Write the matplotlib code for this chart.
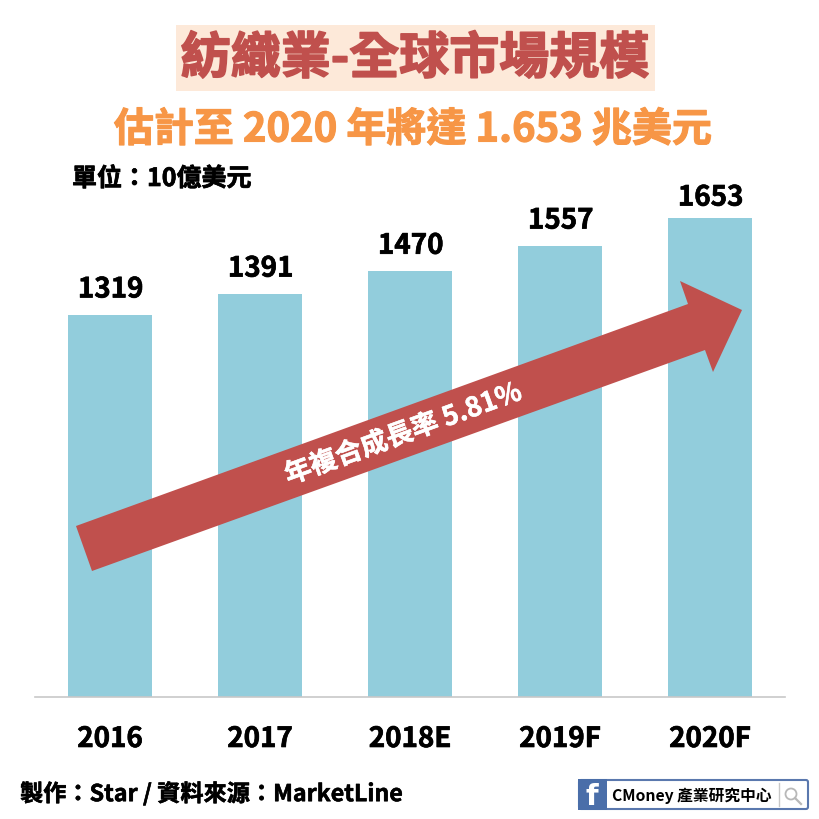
import matplotlib
matplotlib.use('Agg')
import matplotlib.pyplot as plt
import matplotlib.patheffects as pe
from matplotlib.patches import Polygon, Rectangle, FancyBboxPatch, Circle

plt.rcParams['font.family'] = ['Noto Sans CJK TC', 'DejaVu Sans']

# --- Data ---
categories = ['2016', '2017', '2018E', '2019F', '2020F']
values = [1319, 1391, 1470, 1557, 1653]

BAR_COLOR = '#92CDDC'
RED = '#C0504D'
ORANGE = '#F79646'


def heavy(color, w=0.7):
    # the reference type is heavier than the Bold cut, thicken it a bit
    return [pe.withStroke(linewidth=w, foreground=color)]


fig = plt.figure(figsize=(8.2, 8.2), dpi=100, facecolor='white')

# --- Bars ---
ax = fig.add_axes([35 / 820, 122.5 / 820, 750 / 820, 527 / 820])
x = range(len(categories))
bars = ax.bar(x, values, width=0.56, color=BAR_COLOR)
ax.set_xlim(-0.5, 4.5)
ax.set_ylim(0, 1820)
ax.set_yticks([])
ax.set_xticks(list(x))
ax.set_xticklabels(categories, fontsize=20, fontweight='bold',
                   path_effects=heavy('black', 0.5))
ax.tick_params(axis='x', length=0, pad=20.5)
for s in ['top', 'left', 'right']:
    ax.spines[s].set_visible(False)
ax.spines['bottom'].set_color('#C8C8C8')
ax.spines['bottom'].set_linewidth(1.2)

# Add counts above the bars (last label sits closer to its bar in the reference)
for i, bar in enumerate(bars):
    height = bar.get_height()
    gap = 4.5 if i == len(bars) - 1 else 8
    ax.annotate(f'{height:.0f}', (bar.get_x() + bar.get_width() / 2, height),
                xytext=(0.5, gap), textcoords='offset points',
                ha='center', va='bottom', fontsize=20, fontweight='bold',
                path_effects=heavy('black', 0.5))

# --- Overlay in pixel coordinates (titles, arrow, footer) ---
ov = fig.add_axes([0, 0, 1, 1], facecolor='none')
ov.set_xlim(0, 820)
ov.set_ylim(820, 0)
ov.axis('off')

ov.add_patch(Rectangle((176, 26), 479, 66, color='#FDE9D9', lw=0))
ov.text(415, 60, '紡織業-全球市場規模', fontsize=36, fontweight='black',
        color=RED, ha='center', va='center', path_effects=heavy(RED, 1.2))
ov.text(413, 131, '估計至 2020 年將達 1.653 兆美元', fontsize=28.8, fontweight='bold',
        color=ORANGE, ha='center', va='center', path_effects=heavy(ORANGE, 0.8))
ov.text(72, 180, '單位：10億美元', fontsize=18, fontweight='bold', ha='left', va='center',
        path_effects=heavy('black', 0.5))

# growth arrow
arrow_pts = [(76, 527), (688, 305), (680, 282), (742, 311),
             (713, 373), (705, 351), (92, 572)]
ov.add_patch(Polygon(arrow_pts, closed=True, facecolor=RED, edgecolor='none'))
ov.text(403, 435, '年複合成長率 5.81%', fontsize=19.4, fontweight='bold', color='white',
        rotation=20, rotation_mode='anchor', ha='center', va='center',
        path_effects=heavy('white', 0.4))

ov.text(20, 795, '製作：Star / 資料來源：MarketLine', fontsize=16.7, fontweight='bold',
        ha='left', va='center', path_effects=heavy('black', 0.4))

# facebook search badge
ov.add_patch(FancyBboxPatch((579, 781), 229, 29, boxstyle='round,pad=0,rounding_size=2',
                            facecolor='white', edgecolor='#5A78AE', lw=1.5))
ov.add_patch(Rectangle((578, 780), 29, 31, color='#4A6EA9', lw=0))
ov.text(592, 797, 'f', fontsize=21, fontweight='bold', color='white', ha='center', va='center',
        family='DejaVu Sans')
ov.text(612, 796, 'CMoney 產業研究中心', fontsize=11.3, fontweight='bold', ha='left', va='center')
ov.plot([779, 779], [784, 807], color='#C8C8C8', lw=1)
ov.add_patch(Circle((791, 795), 5.5, facecolor='none', edgecolor='#B8B8B8', lw=1.3))
ov.plot([795, 801], [799, 805], color='#B8B8B8', lw=1.6)

fig.savefig('out.png', dpi=100)
